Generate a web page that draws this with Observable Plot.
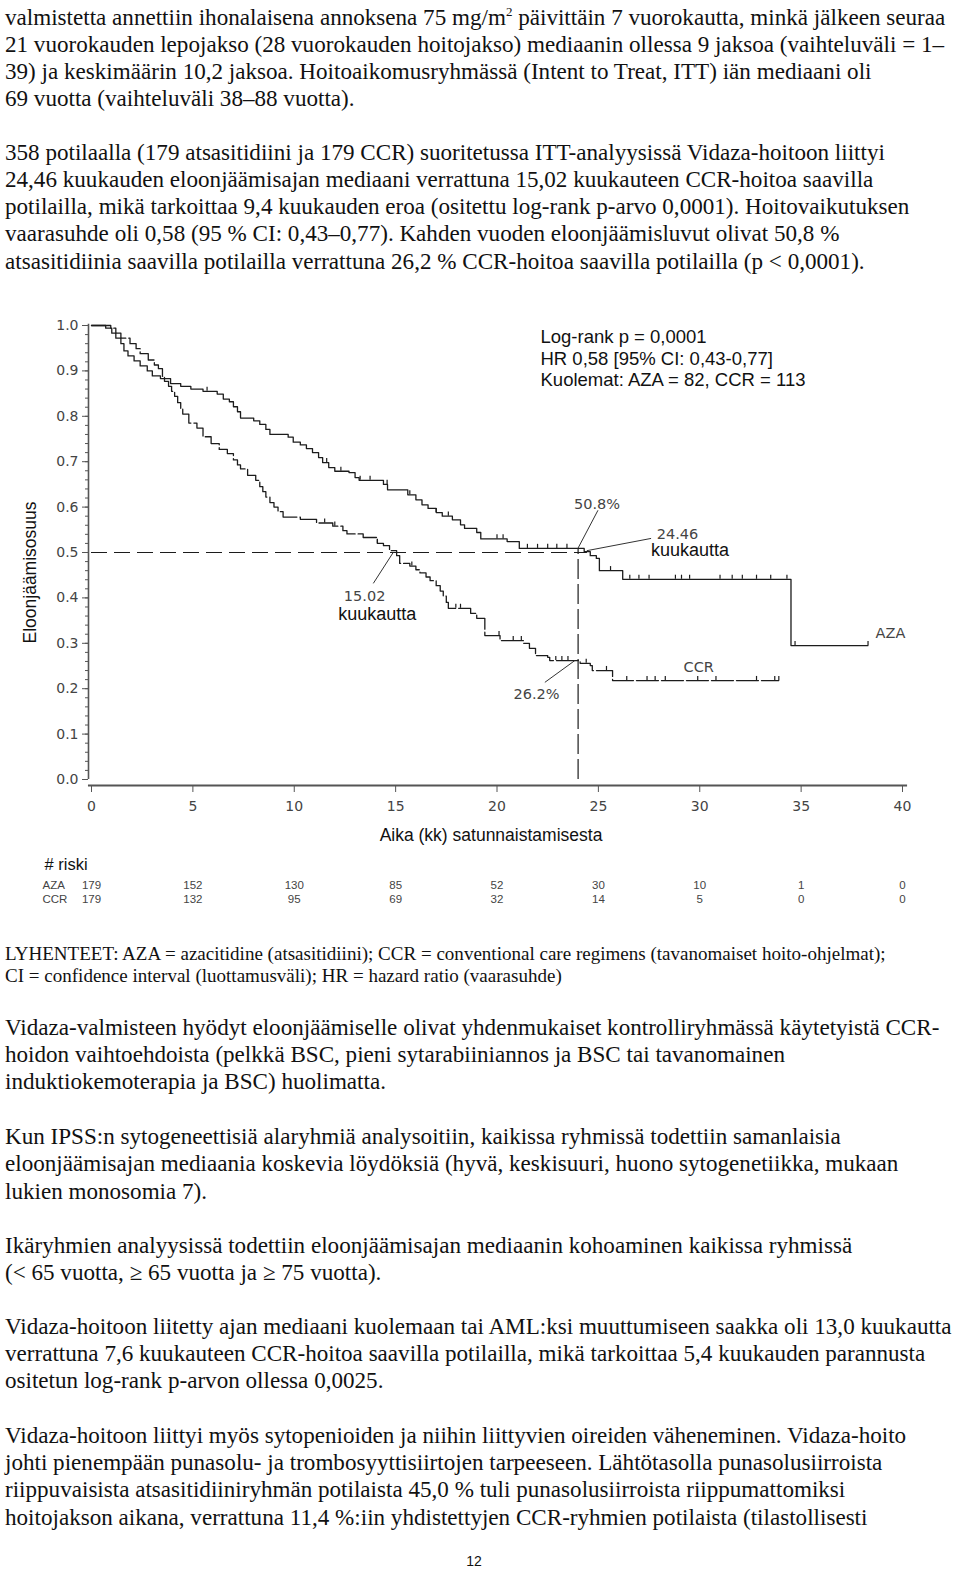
<!DOCTYPE html>
<html><head><meta charset="utf-8">
<script src="https://cdn.jsdelivr.net/npm/d3@7"></script>
<script src="https://cdn.jsdelivr.net/npm/@observablehq/plot@0.6"></script>
<style>
body{margin:0;background:#fff;width:960px;height:1573px;position:relative;overflow:hidden;}
.ln{position:absolute;left:5px;white-space:nowrap;font-family:"Liberation Serif","Times New Roman",serif;font-size:23.1px;line-height:27px;height:27px;color:#111;}
.ab{font-size:19.05px;}
sup{font-size:13px;line-height:0;}
#chart{position:absolute;left:0;top:300px;}
.pg{position:absolute;left:0;width:948px;text-align:center;font-family:"Liberation Sans",Arial,sans-serif;font-size:14px;color:#111;}
</style></head><body>
<div id="text"></div>
<div id="chart"></div>
<script>
// ---- survival data (months, survival proportion), step-after ----
const azaT = [0,0.7,1.0,1.2,1.45,1.6,1.8,2.1,2.4,2.75,3.0,3.4,3.9,4.4,4.9,5.5,6.2,6.5,6.8,7.0,7.2,7.35,8.0,8.3,8.6,8.8,9.7,9.95,10.3,10.6,10.9,11.2,11.4,11.7,12.0,12.7,13.0,13.2,14.4,14.6,15.6,16.0,16.3,16.6,17.0,17.3,17.8,18.2,18.4,19.0,19.2,20.5,21.1,24.3,24.6,24.9,25.05,26.2,34.5,38.3];
const azaS = [1.0,0.994,0.983,0.972,0.96,0.944,0.933,0.922,0.911,0.9,0.889,0.883,0.872,0.866,0.86,0.855,0.849,0.838,0.832,0.821,0.81,0.796,0.79,0.782,0.771,0.76,0.754,0.743,0.737,0.729,0.72,0.709,0.698,0.687,0.679,0.676,0.665,0.659,0.65,0.638,0.627,0.616,0.605,0.597,0.588,0.58,0.572,0.561,0.553,0.544,0.53,0.524,0.509,0.502,0.493,0.487,0.46,0.441,0.295,0.295];
const ccrT = [0,0.95,1.2,1.45,1.9,2.2,2.4,2.8,3.1,3.3,3.5,3.6,3.8,3.95,4.1,4.25,4.4,4.5,4.8,5.2,5.5,5.9,6.3,6.7,7.0,7.2,7.35,7.7,8.1,8.3,8.45,8.6,8.8,9.0,9.2,9.45,10.3,11.1,11.9,12.4,12.6,13.4,14.1,14.4,14.7,15.05,15.2,15.7,16.0,16.2,16.5,16.7,17.0,17.2,17.35,17.5,17.6,18.7,19.0,19.4,20.15,21.3,21.6,21.9,22.5,22.6,24.1,24.6,24.7,25.7,33.9];
const ccrS = [1.0,0.994,0.983,0.972,0.96,0.949,0.938,0.924,0.913,0.905,0.888,0.877,0.866,0.855,0.844,0.83,0.816,0.805,0.785,0.774,0.755,0.74,0.727,0.718,0.704,0.693,0.684,0.67,0.659,0.645,0.634,0.622,0.61,0.6,0.59,0.578,0.573,0.565,0.558,0.548,0.541,0.533,0.52,0.515,0.504,0.493,0.476,0.47,0.462,0.455,0.446,0.438,0.427,0.415,0.404,0.39,0.377,0.366,0.355,0.317,0.306,0.3,0.289,0.273,0.269,0.262,0.256,0.251,0.24,0.218,0.218];
// censoring times
const azaCensor = [5.7,11.6,12.3,13.25,13.74,14.58,15.7,17.0,17.6,20.0,20.3,21.5,22.0,22.5,22.95,23.45,25.6,26.55,27.0,27.5,28.8,29.1,29.5,31.0,31.6,32.1,32.8,33.5,34.3,34.7,38.3];
const ccrCensor = [11.5,12.0,14.1,15.8,17.97,18.2,20.1,20.8,21.2,22.9,23.2,23.5,24.4,25.4,26.4,27.4,27.8,28.3,29.9,30.8,32.8,33.7,33.9];
// number at risk
const riskTimes = [0,5,10,15,20,25,30,35,40];
const riskAZA = [179,152,130,85,52,30,10,1,0];
const riskCCR = [179,132,95,69,32,14,5,0,0];
const riskGroups = ["AZA", "CCR"];
// axis ticks
const xTicks = [0,5,10,15,20,25,30,35,40];
const yTicks = [0,0.1,0.2,0.3,0.4,0.5,0.6,0.7,0.8,0.9,1.0];
// reference values
const medianAZA = 24.46, medianCCR = 15.02, halfSurv = 0.5;
const twoYears = 24, twoYearAZA = 0.508, twoYearCCR = 0.262;
const statsText = ["Log-rank p = 0,0001", "HR 0,58 [95% CI: 0,43-0,77]", "Kuolemat: AZA = 82, CCR = 113"];
const yTitle = "Eloonjäämisosuus";
const xTitle = "Aika (kk) satunnaistamisesta";
const riskTitle = "# riski";
// annotation labels {label, t, s}
const grayLabelsMiddle = [
  {label:"50.8%", t:24.93, s:0.607},
  {label:"15.02", t:13.47, s:0.403},
  {label:"26.2%", t:21.95, s:0.187}
];
const grayLabelsStart = [
  {label:"24.46", t:27.88, s:0.54},
  {label:"AZA", t:38.67, s:0.322},
  {label:"CCR", t:29.2, s:0.247}
];
const blackLabelsStart = [{label:"kuukautta", t:27.59, s:0.504}];
const blackLabelsMiddle = [{label:"kuukautta", t:14.09, s:0.363}];
const leaders = [
  {t1:24.98, s1:0.593, t2:23.99, s2:0.509},
  {t1:24.43, s1:0.504, t2:27.6, s2:0.531},
  {t1:13.9, s1:0.432, t2:14.88, s2:0.5},
  {t1:22.36, s1:0.214, t2:23.84, s2:0.262}
];

// ---- page text ----
const textLines = [
  ["valmistetta annettiin ihonalaisena annoksena 75 mg/m<sup>2</sup> päivittäin 7 vuorokautta, minkä jälkeen seuraa", 17, ""],
  ["21 vuorokauden lepojakso (28 vuorokauden hoitojakso) mediaanin ollessa 9 jaksoa (vaihteluväli = 1–", 44.1, ""],
  ["39) ja keskimäärin 10,2 jaksoa. Hoitoaikomusryhmässä (Intent to Treat, ITT) iän mediaani oli", 71.2, ""],
  ["69 vuotta (vaihteluväli 38–88 vuotta).", 98.3, ""],
  ["358 potilaalla (179 atsasitidiini ja 179 CCR) suoritetussa ITT-analyysissä Vidaza-hoitoon liittyi", 152.5, ""],
  ["24,46 kuukauden eloonjäämisajan mediaani verrattuna 15,02 kuukauteen CCR-hoitoa saavilla", 179.6, ""],
  ["potilailla, mikä tarkoittaa 9,4 kuukauden eroa (ositettu log-rank p-arvo 0,0001). Hoitovaikutuksen", 206.7, ""],
  ["vaarasuhde oli 0,58 (95 % CI: 0,43–0,77). Kahden vuoden eloonjäämisluvut olivat 50,8 %", 233.7, ""],
  ["atsasitidiinia saavilla potilailla verrattuna 26,2 % CCR-hoitoa saavilla potilailla (p &lt; 0,0001).", 260.8, ""],
  ["LYHENTEET: AZA = azacitidine (atsasitidiini); CCR = conventional care regimens (tavanomaiset hoito-ohjelmat);", 953, "ab"],
  ["CI = confidence interval (luottamusväli); HR = hazard ratio (vaarasuhde)", 975, "ab"],
  ["Vidaza-valmisteen hyödyt eloonjäämiselle olivat yhdenmukaiset kontrolliryhmässä käytetyistä CCR-", 1027.3, ""],
  ["hoidon vaihtoehdoista (pelkkä BSC, pieni sytarabiiniannos ja BSC tai tavanomainen", 1054.4, ""],
  ["induktiokemoterapia ja BSC) huolimatta.", 1081.4, ""],
  ["Kun IPSS:n sytogeneettisiä alaryhmiä analysoitiin, kaikissa ryhmissä todettiin samanlaisia", 1136.6, ""],
  ["eloonjäämisajan mediaania koskevia löydöksiä (hyvä, keskisuuri, huono sytogenetiikka, mukaan", 1163.7, ""],
  ["lukien monosomia 7).", 1190.8, ""],
  ["Ikäryhmien analyysissä todettiin eloonjäämisajan mediaanin kohoaminen kaikissa ryhmissä", 1245, ""],
  ["(&lt; 65 vuotta, ≥ 65 vuotta ja ≥ 75 vuotta).", 1272, ""],
  ["Vidaza-hoitoon liitetty ajan mediaani kuolemaan tai AML:ksi muuttumiseen saakka oli 13,0 kuukautta", 1326.2, ""],
  ["verrattuna 7,6 kuukauteen CCR-hoitoa saavilla potilailla, mikä tarkoittaa 5,4 kuukauden parannusta", 1353.3, ""],
  ["ositetun log-rank p-arvon ollessa 0,0025.", 1380.4, ""],
  ["Vidaza-hoitoon liittyi myös sytopenioiden ja niihin liittyvien oireiden väheneminen. Vidaza-hoito", 1435.6, ""],
  ["johti pienempään punasolu- ja trombosyyttisiirtojen tarpeeseen. Lähtötasolla punasolusiirroista", 1462.6, ""],
  ["riippuvaisista atsasitidiiniryhmän potilaista 45,0 % tuli punasolusiirroista riippumattomiksi", 1489.7, ""],
  ["hoitojakson aikana, verrattuna 11,4 %:iin yhdistettyjen CCR-ryhmien potilaista (tilastollisesti", 1516.8, ""]
];
const pageNumber = "12";

const textDiv = document.getElementById("text");
for (const [html, cy, cls] of textLines) {
  const d = document.createElement("div");
  d.className = "ln " + cls;
  d.innerHTML = html;
  d.style.top = (cy - 13.3) + "px";
  textDiv.appendChild(d);
}
const pn = document.createElement("div");
pn.className = "pg"; pn.textContent = pageNumber; pn.style.top = "1553px";
document.body.appendChild(pn);

// ---- chart ----
const aza = azaT.map((t, i) => ({t, s: azaS[i]}));
const ccr = ccrT.map((t, i) => ({t, s: ccrS[i]}));
function stepAt(data, t) { let s = data[0].s; for (const d of data) { if (d.t <= t) s = d.s; } return s; }
const azaC = azaCensor.map(t => ({t, s: stepAt(aza, t)}));
const ccrC = ccrCensor.map(t => ({t, s: stepAt(ccr, t)}));
const risk = riskTimes.map((t, i) => ({t, a: riskAZA[i], c: riskCCR[i]}));

const axisCol = "#555";
const lineCol = "#1c1c1c";
const sans = "'Liberation Sans', Arial, sans-serif";
const pix = "'DejaVu Sans', sans-serif";

const chart = Plot.plot({
  width: 960, height: 610,
  marginLeft: 91, marginRight: 58, marginTop: 25, marginBottom: 131,
  style: {fontFamily: sans, background: "white", overflow: "visible"},
  x: {domain: [0, 40]},
  y: {domain: [0, 1]},
  marks: [
    // axes
    Plot.ruleX([0], {y1: 0, y2: 1.016, dx: -3, insetBottom: -6, stroke: axisCol, strokeWidth: 1.6}),
    Plot.ruleY([0], {x1: -0.15, x2: 40.25, dy: 6, stroke: axisCol, strokeWidth: 2}),
    Plot.axisY({ticks: d3.range(0, 1.001, 0.02), tickSize: 3, dx: -3, text: null, stroke: axisCol}),
    Plot.axisY({ticks: yTicks, tickSize: 6, dx: -3, tickPadding: 4, tickFormat: d3.format(".1f"), stroke: axisCol, fill: "#444", fontSize: 14, fontFamily: pix, label: null}),
    Plot.axisX({ticks: xTicks, tickSize: 7, dy: 6, tickPadding: 9, stroke: axisCol, fill: "#444", fontSize: 14, fontFamily: pix, label: null}),
    // reference lines
    Plot.ruleY([halfSurv], {x1: 0, x2: medianAZA, stroke: lineCol, strokeWidth: 1.2, strokeDasharray: "16,7"}),
    Plot.ruleX([twoYears], {y1: 0, y2: twoYearAZA, stroke: lineCol, strokeWidth: 1.2, strokeDasharray: "20,5"}),
    // curves
    Plot.line(aza, {x: "t", y: "s", curve: "step-after", stroke: lineCol, strokeWidth: 1.3}),
    Plot.line(ccr, {x: "t", y: "s", curve: "step-after", stroke: lineCol, strokeWidth: 1.3, strokeDasharray: "22,3"}),
    Plot.ruleX(azaC, {x: "t", y1: "s", y2: d => d.s + 0.009, stroke: lineCol, strokeWidth: 1.2}),
    Plot.ruleX(ccrC, {x: "t", y1: "s", y2: d => d.s + 0.009, stroke: lineCol, strokeWidth: 1.2}),
    // leaders
    Plot.link(leaders, {x1: "t1", y1: "s1", x2: "t2", y2: "s2", stroke: "#333", strokeWidth: 1}),
    // labels
    Plot.text(grayLabelsMiddle, {x: "t", y: "s", text: "label", textAnchor: "middle", fill: "#444", fontSize: 14.5, fontFamily: pix}),
    Plot.text(grayLabelsStart, {x: "t", y: "s", text: "label", textAnchor: "start", fill: "#444", fontSize: 14.5, fontFamily: pix}),
    Plot.text(blackLabelsStart, {x: "t", y: "s", text: "label", textAnchor: "start", fill: "#111", fontSize: 18}),
    Plot.text(blackLabelsMiddle, {x: "t", y: "s", text: "label", textAnchor: "middle", fill: "#111", fontSize: 18}),
    Plot.text([statsText.join("\n")], {frameAnchor: "top-left", dx: 449, dy: 2, lineHeight: 1.17, textAnchor: "start", fill: "#111", fontSize: 18.5}),
    // axis titles
    Plot.text([yTitle], {x: () => -3.0, y: () => 0.456, rotate: -90, fill: "#111", fontSize: 17.5}),
    Plot.text([xTitle], {frameAnchor: "bottom", dx: -6, dy: 61, fill: "#111", fontSize: 17.5}),
    // risk table
    Plot.text([riskTitle], {frameAnchor: "bottom-left", dx: -47, dy: 90, textAnchor: "start", fill: "#111", fontSize: 16.5}),
    Plot.text([riskGroups[0]], {frameAnchor: "bottom-left", dx: -49, dy: 109, textAnchor: "start", fill: "#444", fontSize: 11.5}),
    Plot.text([riskGroups[1]], {frameAnchor: "bottom-left", dx: -49, dy: 123, textAnchor: "start", fill: "#444", fontSize: 11.5}),
    Plot.text(risk, {x: "t", frameAnchor: "bottom", dy: 109, text: "a", fill: "#444", fontSize: 11.5}),
    Plot.text(risk, {x: "t", frameAnchor: "bottom", dy: 123, text: "c", fill: "#444", fontSize: 11.5})
  ]
});
document.getElementById("chart").appendChild(chart);
</script>
</body></html>
